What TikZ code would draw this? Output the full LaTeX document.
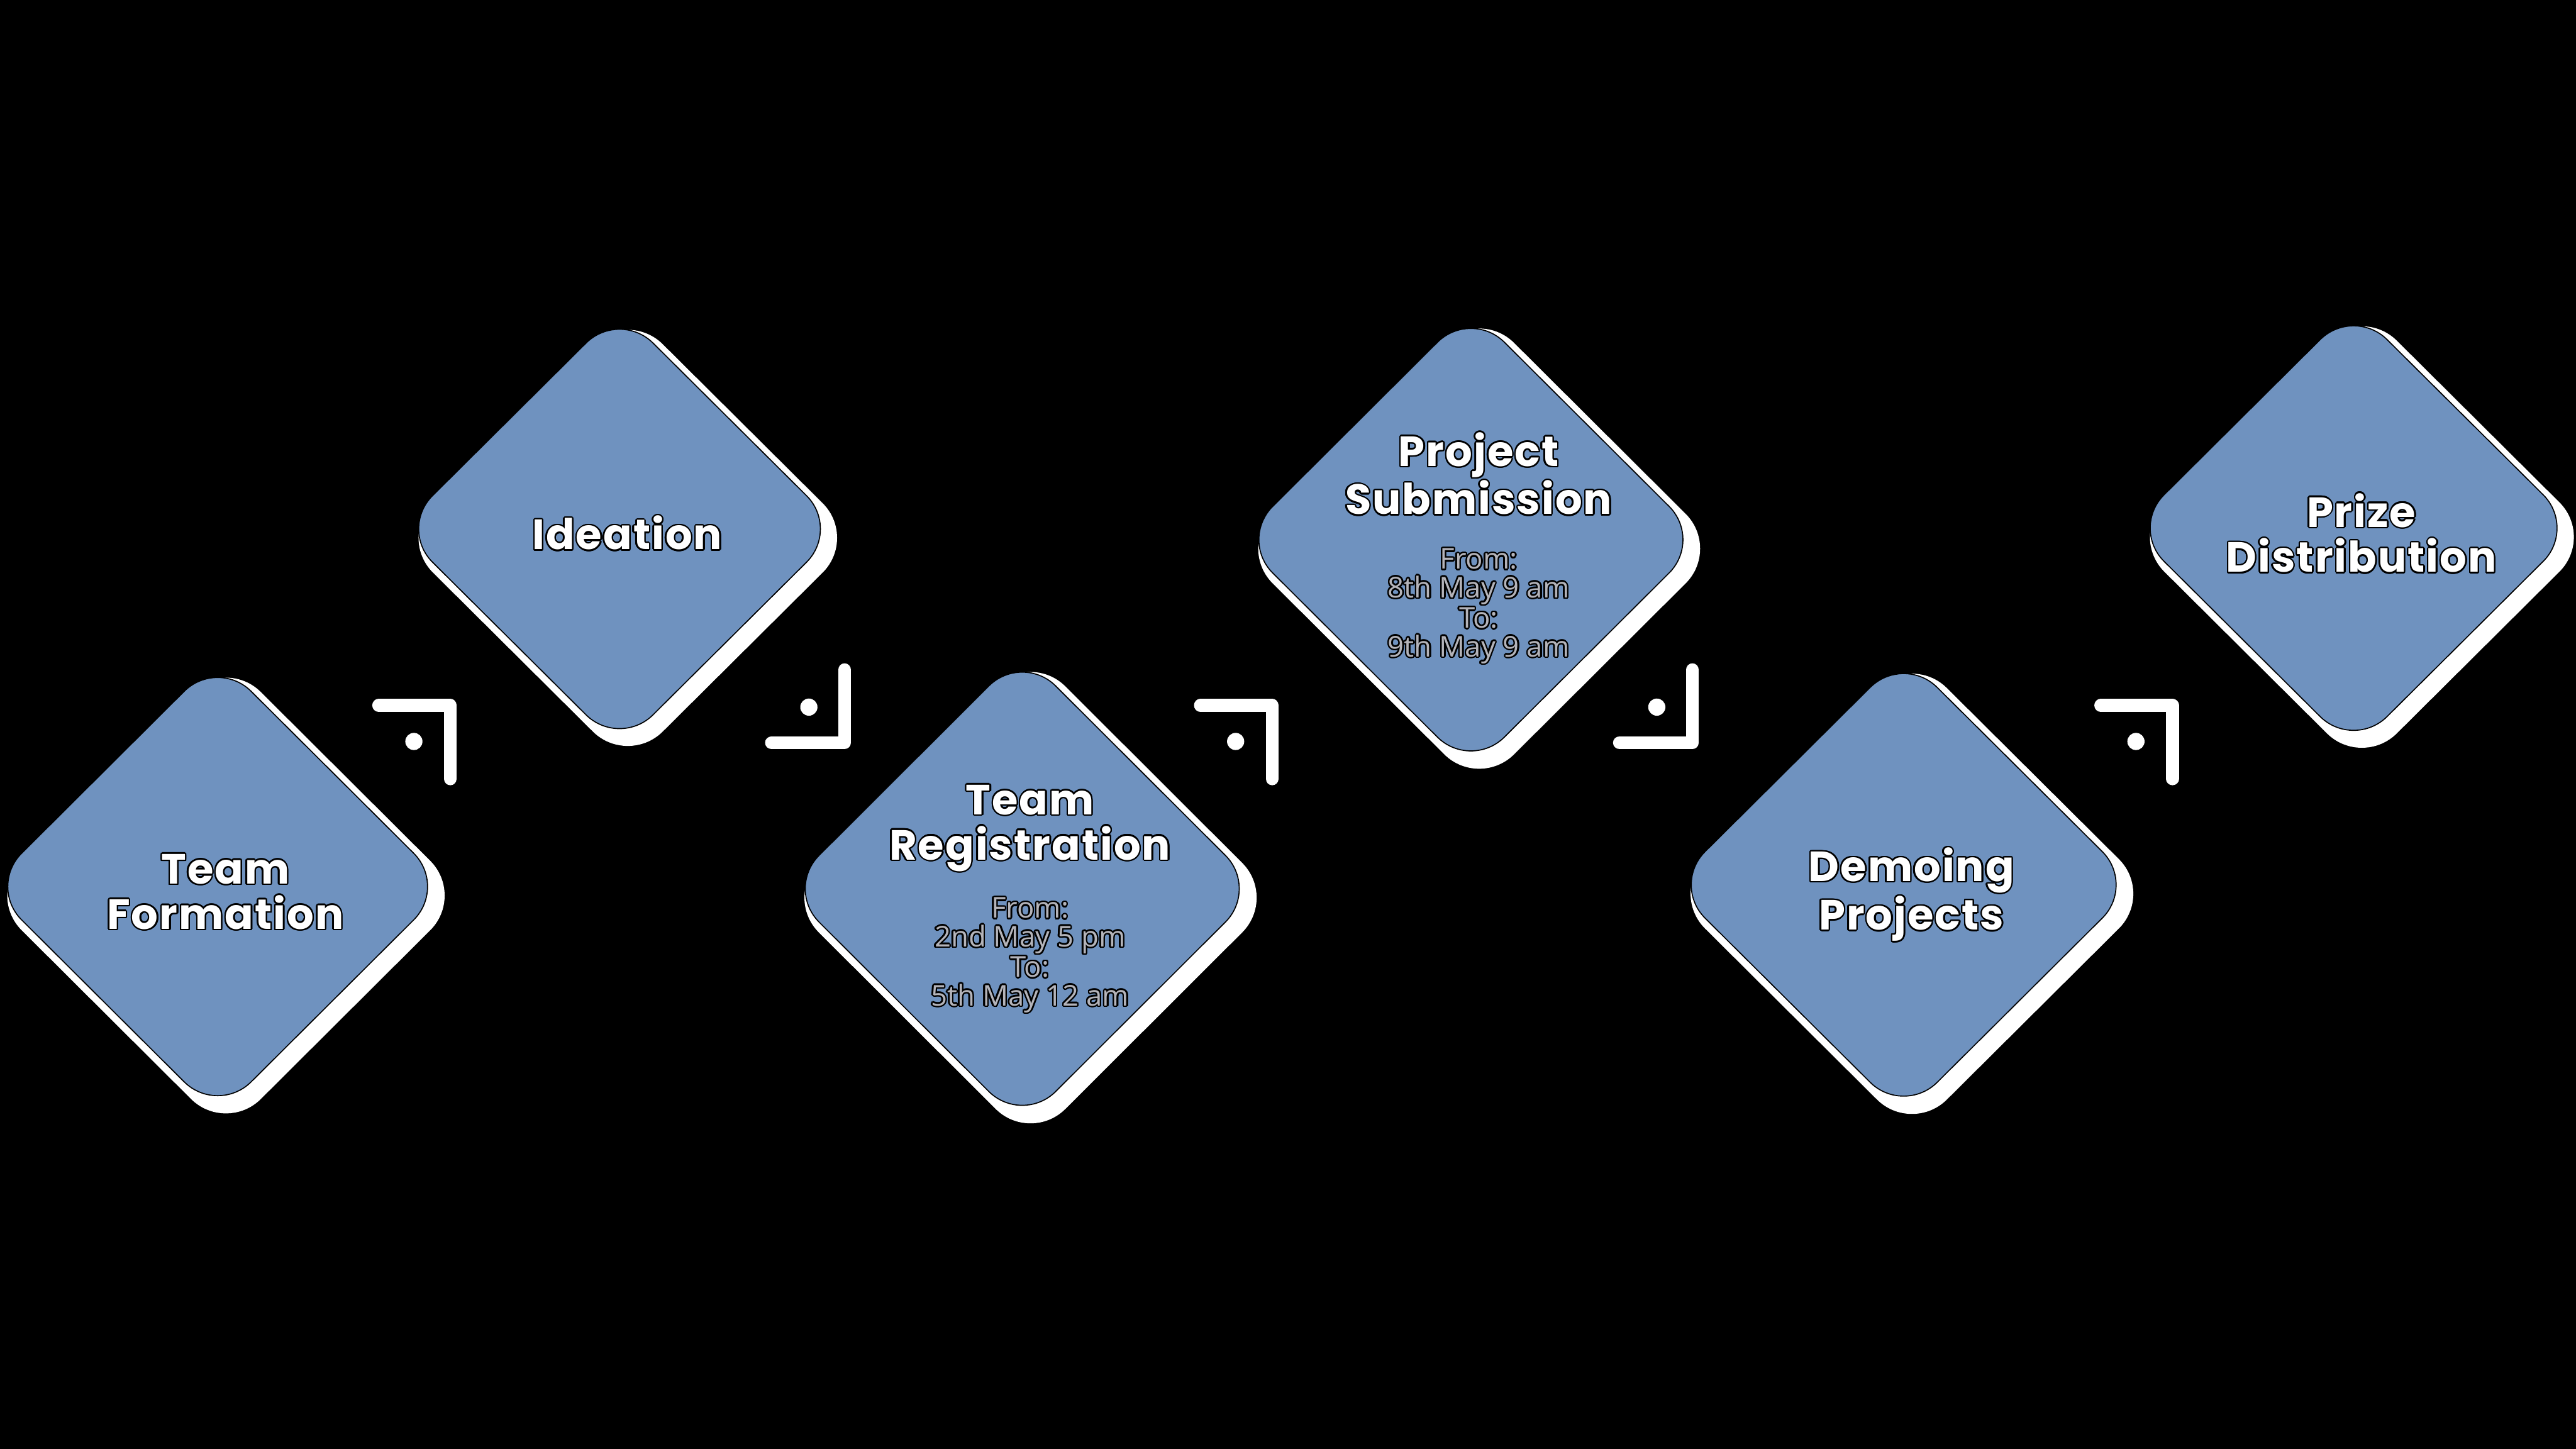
\documentclass[tikz,border=0pt]{standalone}
\usepackage{fontspec}
\usepackage{xcolor}
\usepackage{contour}
\contourlength{1pt}
\newfontfamily\namefont{Poppins}[LetterSpace=3]
\newfontfamily\datefont{Open Sans}
\definecolor{stageblue}{RGB}{111,146,191}
\definecolor{dategray}{RGB}{180,180,186}
\usepackage{tikz}
\usetikzlibrary{shapes.geometric, shadows, positioning, calc}
\tikzstyle{stage} = [
    diamond, aspect=1,
    rounded corners=1.1cm,
    inner sep=0pt,
    fill=stageblue,
    draw=black,
    line width=0.7pt,
    drop shadow={fill=white, opacity=1, shadow xshift=0.185cm,
        shadow yshift=-0.2cm, shadow scale=1.042},
]
\tikzstyle{stagename} = [
    text=white, align=center, inner sep=0pt,
    font=\namefont\bfseries\fontsize{28}{30}\selectfont,
]
\tikzstyle{stagedate} = [
    text=dategray, align=center, inner sep=0pt,
    font=\datefont\fontsize{19}{19}\selectfont,
]
\tikzstyle{hook} = [draw=white, line width=0.3cm, line cap=round, line join=round]

\begin{document}
\begin{tikzpicture}
    \fill[black] (0,0) rectangle (60,-33.75);
    \useasboundingbox (0,0) rectangle (60,-33.75);

    % stages
    \node (form) at (5.07,-20.65) [stage, minimum width=10.7cm, minimum height=10.66cm] {};
    \node (idea) at (14.43,-12.32) [stage, minimum width=10.28cm, minimum height=10.22cm] {};
    \node (reg) at (23.81,-20.70) [stage, minimum width=11.03cm, minimum height=11.01cm] {};
    \node (sub) at (34.26,-12.57) [stage, minimum width=10.8cm, minimum height=10.76cm] {};
    \node (demo) at (44.34,-20.61) [stage, minimum width=10.82cm, minimum height=10.76cm] {};
    \node (prize) at (54.82,-12.30) [stage, minimum width=10.4cm, minimum height=10.34cm] {};

    % names
    \node (form-name) at ([xshift=0.18cm, yshift=-0.14cm]form.center) [stagename]
        {\contour{black}{Team}\\\contour{black}{Formation}};
    \node (idea-name) at ([xshift=0.18cm, yshift=-0.11cm]idea.center) [stagename]
        {\contour{black}{Ideation}};
    \node (reg-name) at ([xshift=0.18cm, yshift=0.36cm]reg.center) [stagename, anchor=south]
        {\contour{black}{Team}\\\contour{black}{Registration}};
    \node (sub-name) at ([xshift=0.18cm, yshift=0.54cm]sub.center) [stagename, anchor=south]
        {\contour{black}{Project}\\\contour{black}{Submission}};
    \node (demo-name) at ([xshift=0.18cm, yshift=-0.24cm]demo.center) [stagename]
        {\contour{black}{Demoing}\\\contour{black}{Projects}};
    \node (prize-name) at ([xshift=0.18cm, yshift=-0.13cm]prize.center) [stagename]
        {\contour{black}{Prize}\\\contour{black}{Distribution}};

    % dates
    \node (reg-date) at ([xshift=0.18cm, yshift=-0.2cm]reg.center) [stagedate, anchor=north]
        {\contour{black}{From:}\\\contour{black}{2nd May 5 pm}\\
         \contour{black}{To:}\\\contour{black}{5th May 12 am}};
    \node (sub-date) at ([xshift=0.18cm, yshift=-0.2cm]sub.center) [stagedate, anchor=north]
        {\contour{black}{From:}\\\contour{black}{8th May 9 am}\\
         \contour{black}{To:}\\\contour{black}{9th May 9 am}};

    % hooks
    \foreach \x [count=\i] in {10.49, 29.63, 50.60} {
        \coordinate (down\i) at (\x, -16.43);
        \draw [hook] ($(down\i)+(-1.67,0)$) -- (down\i) -- ++(0,-1.71);
        \fill [white] ($(down\i)+(-0.85,-0.84)$) circle (0.2);
    }
    \foreach \x [count=\i] in {19.67, 39.42} {
        \coordinate (up\i) at (\x, -17.30);
        \draw [hook] ($(up\i)+(0,1.7)$) -- (up\i) -- ++(-1.7,0);
        \fill [white] ($(up\i)+(-0.83,0.83)$) circle (0.2);
    }

\end{tikzpicture}
\end{document}
